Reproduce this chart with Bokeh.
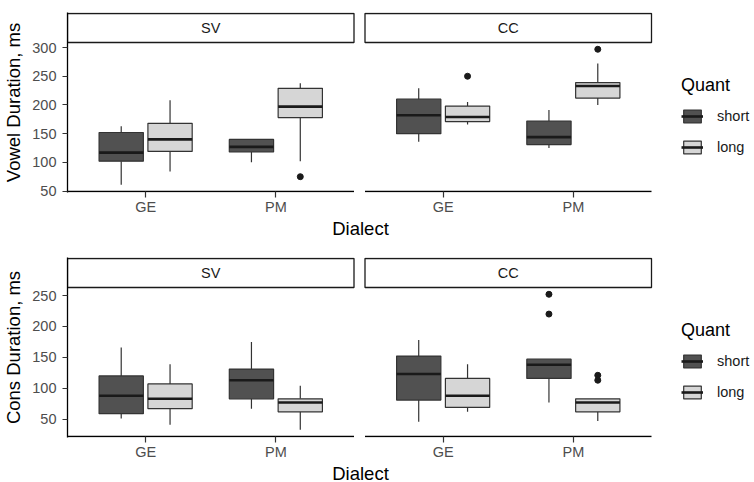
from bokeh.plotting import figure
from bokeh.models import ColumnDataSource, FixedTicker, Range1d, Legend, LegendItem
from bokeh.layouts import column
from bokeh.embed import file_html
from bokeh.resources import INLINE

FONT = "Liberation Sans"

# ---------------- data ----------------
facets = ["SV", "CC"]
dialects = ["GE", "PM"]
quants = ["short", "long"]
quant_colors = ["#515151", "#d6d6d6"]

box_facet = ["SV", "SV", "SV", "SV", "CC", "CC", "CC", "CC"]
box_dialect = ["GE", "GE", "PM", "PM", "GE", "GE", "PM", "PM"]
box_quant = ["short", "long", "short", "long", "short", "long", "short", "long"]

# Vowel duration (ms): box statistics
vowel_lower = [61, 84, 100, 102, 136, 166, 125, 200]
vowel_q1 = [102, 119, 118, 178, 150, 171, 131, 212]
vowel_median = [117, 140, 127, 197, 182, 179, 144, 233]
vowel_q3 = [152, 168, 140, 229, 210, 198, 172, 239]
vowel_upper = [163, 208, 140, 238, 229, 205, 191, 272]
vowel_out_facet = ["SV", "CC", "CC"]
vowel_out_dialect = ["PM", "GE", "PM"]
vowel_out_quant = ["long", "long", "long"]
vowel_out_value = [75, 250, 297]
vowel_yticks = [50, 100, 150, 200, 250, 300]

# Consonant duration (ms): box statistics
cons_lower = [51, 41, 67, 33, 46, 62, 77, 47]
cons_q1 = [59, 67, 83, 62, 81, 69, 116, 62]
cons_median = [88, 83, 113, 77, 123, 88, 138, 77]
cons_q3 = [120, 107, 131, 83, 152, 116, 147, 83]
cons_upper = [166, 139, 175, 104, 178, 139, 147, 83]
cons_out_facet = ["CC", "CC", "CC", "CC"]
cons_out_dialect = ["PM", "PM", "PM", "PM"]
cons_out_quant = ["short", "short", "long", "long"]
cons_out_value = [252, 220, 121, 113]
cons_yticks = [50, 100, 150, 200, 250]

# ---------------- layout constants ----------------
PANEL_W = 286.5
GAP = 11
PANEL_H = 149
STRIP_H = 29
LEFT = 60
RIGHT = 92
FRAME_W = 586
FRAME_H = PANEL_H + STRIP_H + 2
DODGE = 0.1875
BOX_W = 0.34
LINE_C = "#333333"


def make_row(ylabel, yticks, lower, q1, med, q3, upper, o_f, o_d, o_q, o_v, top_b, bot_b):
    allv = lower + upper + o_v
    mn, mx = min(allv), max(allv)
    ylo = mn - 0.05 * (mx - mn)
    yhi = mx + 0.05 * (mx - mn)
    ppu_y = PANEL_H / (yhi - ylo)
    ppu_x = PANEL_W / 2.2
    fstep = 2.2 + GAP / ppu_x

    def xpos(f, d, q):
        return facets.index(f) * fstep + dialects.index(d) + 1 + (-DODGE if q == "short" else DODGE)

    p = figure(frame_width=FRAME_W, frame_height=FRAME_H,
               x_range=Range1d(0.4, 0.4 + FRAME_W / ppu_x),
               y_range=Range1d(ylo - 1 / ppu_y, yhi + (STRIP_H + 1) / ppu_y),
               min_border_left=LEFT, min_border_right=RIGHT,
               min_border_top=top_b, min_border_bottom=bot_b,
               output_backend="svg", toolbar_location=None, title=None)
    p.grid.visible = False
    p.outline_line_color = None
    p.background_fill_color = "white"
    p.border_fill_color = "white"

    # strips
    s_left = [i * fstep + 0.4 for i in range(len(facets))]
    s_right = [i * fstep + 2.6 for i in range(len(facets))]
    strip_top = yhi + STRIP_H / ppu_y
    p.quad(left=s_left, right=s_right, bottom=[yhi] * len(facets), top=[strip_top] * len(facets),
           fill_color="white", line_color="#1a1a1a", line_width=1.3)
    p.text(x=[i * fstep + 1.5 for i in range(len(facets))],
           y=[yhi + STRIP_H / 2 / ppu_y] * len(facets), text=facets,
           text_align="center", text_baseline="middle",
           text_font={"value": FONT}, text_font_size="14.5px", text_color="#1a1a1a")
    # per-panel x axis lines
    p.segment(x0=s_left, x1=s_right, y0=[ylo] * len(facets), y1=[ylo] * len(facets),
              line_color="black", line_width=1.3)

    items = []
    for qi, q in enumerate(quants):
        idx = [i for i in range(len(box_quant)) if box_quant[i] == q]
        xs = [xpos(box_facet[i], box_dialect[i], q) for i in idx]
        src = ColumnDataSource(dict(
            x=xs,
            xl=[x - BOX_W / 2 for x in xs],
            xr=[x + BOX_W / 2 for x in xs],
            lower=[lower[i] for i in idx], q1=[q1[i] for i in idx],
            med=[med[i] for i in idx], q3=[q3[i] for i in idx],
            upper=[upper[i] for i in idx]))
        p.segment(x0="x", y0="q3", x1="x", y1="upper", source=src, line_color=LINE_C, line_width=1.2)
        p.segment(x0="x", y0="q1", x1="x", y1="lower", source=src, line_color=LINE_C, line_width=1.2)
        rb = p.vbar(x="x", width=BOX_W, top="q3", bottom="q1", source=src,
                    fill_color=quant_colors[qi], line_color=LINE_C, line_width=1.2)
        rm = p.segment(x0="xl", x1="xr", y0="med", y1="med", source=src,
                       line_color="#1a1a1a", line_width=2.6)
        items.append(LegendItem(label=q, renderers=[rb, rm]))

    ox = [xpos(o_f[i], o_d[i], o_q[i]) for i in range(len(o_v))]
    p.scatter(x=ox, y=o_v, size=6, color="#1a1a1a")

    # axes
    tick_pos = [round(fi * fstep + di + 1, 6) for fi in range(len(facets)) for di in range(len(dialects))]
    p.xaxis.ticker = FixedTicker(ticks=tick_pos)
    p.xaxis.major_label_overrides = {tp: dialects[k % len(dialects)] for k, tp in enumerate(tick_pos)}
    p.xaxis.axis_line_color = None
    p.xaxis.major_tick_in = 1
    p.xaxis.major_tick_out = 5
    p.xaxis.minor_tick_line_color = None
    p.xaxis.axis_label = "Dialect"
    p.xaxis.major_label_standoff = 1
    p.xaxis.axis_label_standoff = 0

    p.yaxis.ticker = FixedTicker(ticks=yticks)
    p.yaxis.minor_tick_line_color = None
    p.yaxis.major_tick_in = 0
    p.yaxis.major_tick_out = 5
    p.yaxis.axis_line_color = "black"
    p.yaxis.axis_line_width = 1.3
    p.yaxis.axis_label = ylabel
    p.yaxis.major_label_standoff = 6
    p.yaxis.axis_label_standoff = 5

    for ax in (p.xaxis, p.yaxis):
        ax.major_tick_line_color = "#333333"
        ax.major_tick_line_width = 1.2
        ax.major_label_text_font = FONT
        ax.major_label_text_font_size = "14.5px"
        ax.major_label_text_color = "#4d4d4d"
        ax.axis_label_text_font = FONT
        ax.axis_label_text_font_size = "18.5px"
        ax.axis_label_text_font_style = "normal"
        ax.axis_label_text_color = "black"

    legend = Legend(items=items, title="Quant", location=(28, 37), orientation="vertical",
                    border_line_color=None, background_fill_alpha=0, padding=0, margin=0,
                    spacing=15, glyph_width=22, glyph_height=16, label_height=16,
                    label_standoff=14, title_standoff=12,
                    label_text_font=FONT, label_text_font_size="14.5px", label_text_color="#1a1a1a",
                    title_text_font=FONT, title_text_font_size="18px", title_text_font_style="normal",
                    title_text_color="black")
    p.add_layout(legend, "right")
    return p


p1 = make_row("Vowel Duration, ms", vowel_yticks, vowel_lower, vowel_q1, vowel_median, vowel_q3,
              vowel_upper, vowel_out_facet, vowel_out_dialect, vowel_out_quant, vowel_out_value, 12, 60)
p2 = make_row("Cons Duration, ms", cons_yticks, cons_lower, cons_q1, cons_median, cons_q3,
              cons_upper, cons_out_facet, cons_out_dialect, cons_out_quant, cons_out_value, 5, 30)

layout = column(p1, p2, spacing=0)
open("out.html", "w").write(file_html(layout, INLINE))
